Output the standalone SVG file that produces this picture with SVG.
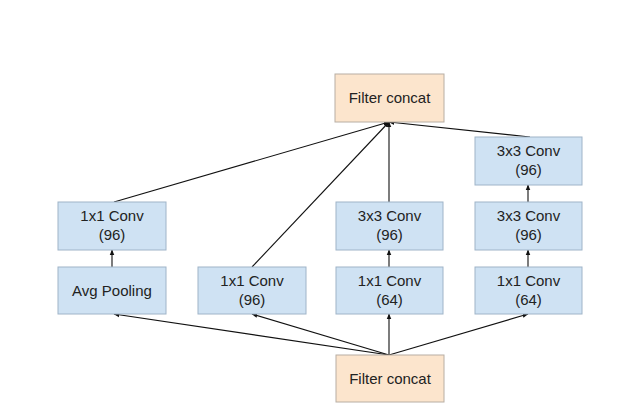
<svg xmlns="http://www.w3.org/2000/svg" width="640" height="419" viewBox="0 0 640 419">
<defs>
<style>
.conv{fill:#cfe2f3;stroke:#9fb4c8;stroke-width:1}
.cat{fill:#fce5cd;stroke:#b8aea3;stroke-width:1}
text{font-family:"Liberation Sans",Arial,sans-serif;font-size:15px;fill:#222;text-anchor:middle}
.ln{stroke:#111;stroke-width:1.1;fill:none;marker-end:url(#ah)}
</style>
<marker id="ah" viewBox="0 0 10 10" refX="9" refY="5" markerWidth="6" markerHeight="6" orient="auto" markerUnits="userSpaceOnUse">
<path d="M0,1 L10,5 L0,9 z" fill="#111"/>
</marker>
</defs>
<rect width="640" height="419" fill="#fff"/>
<g id="connectors">
<line class="ln" x1="389" y1="355" x2="114" y2="314"/>
<line class="ln" x1="389" y1="355" x2="252" y2="314"/>
<line class="ln" x1="389" y1="355" x2="389" y2="314"/>
<line class="ln" x1="389" y1="355" x2="528" y2="314"/>
<line class="ln" x1="112" y1="267" x2="112" y2="250"/>
<line class="ln" x1="389" y1="267" x2="389" y2="250"/>
<line class="ln" x1="528" y1="267" x2="528" y2="250"/>
<line class="ln" x1="528" y1="202" x2="528" y2="185"/>
<line class="ln" x1="114" y1="202" x2="389" y2="122"/>
<line class="ln" x1="252" y1="267" x2="389" y2="122"/>
<line class="ln" x1="389" y1="202" x2="389" y2="122"/>
<line class="ln" x1="530" y1="137" x2="389" y2="122"/>
</g>
<g id="concat_top"><rect class="cat" x="335" y="74" width="109" height="48"/><text x="389.5" y="103">Filter concat</text></g>
<g id="concat_bottom"><rect class="cat" x="336" y="355" width="108" height="47"/><text x="390" y="384">Filter concat</text></g>
<g id="b1_conv"><rect class="conv" x="58" y="202" width="108" height="48"/><text x="112" y="221">1x1 Conv</text><text x="112" y="240">(96)</text></g>
<g id="b1_pool"><rect class="conv" x="58" y="267" width="108" height="47"/><text x="112" y="296">Avg Pooling</text></g>
<g id="b2_conv"><rect class="conv" x="198" y="267" width="108" height="47"/><text x="252" y="286">1x1 Conv</text><text x="252" y="305">(96)</text></g>
<g id="b3_conv3"><rect class="conv" x="336" y="202" width="107" height="48"/><text x="389.5" y="221">3x3 Conv</text><text x="389.5" y="240">(96)</text></g>
<g id="b3_conv1"><rect class="conv" x="336" y="267" width="107" height="47"/><text x="389.5" y="286">1x1 Conv</text><text x="389.5" y="305">(64)</text></g>
<g id="b4_conv3b"><rect class="conv" x="475" y="137" width="107" height="48"/><text x="528.5" y="156">3x3 Conv</text><text x="528.5" y="175">(96)</text></g>
<g id="b4_conv3a"><rect class="conv" x="475" y="202" width="107" height="48"/><text x="528.5" y="221">3x3 Conv</text><text x="528.5" y="240">(96)</text></g>
<g id="b4_conv1"><rect class="conv" x="475" y="267" width="107" height="47"/><text x="528.5" y="286">1x1 Conv</text><text x="528.5" y="305">(64)</text></g>
</svg>
